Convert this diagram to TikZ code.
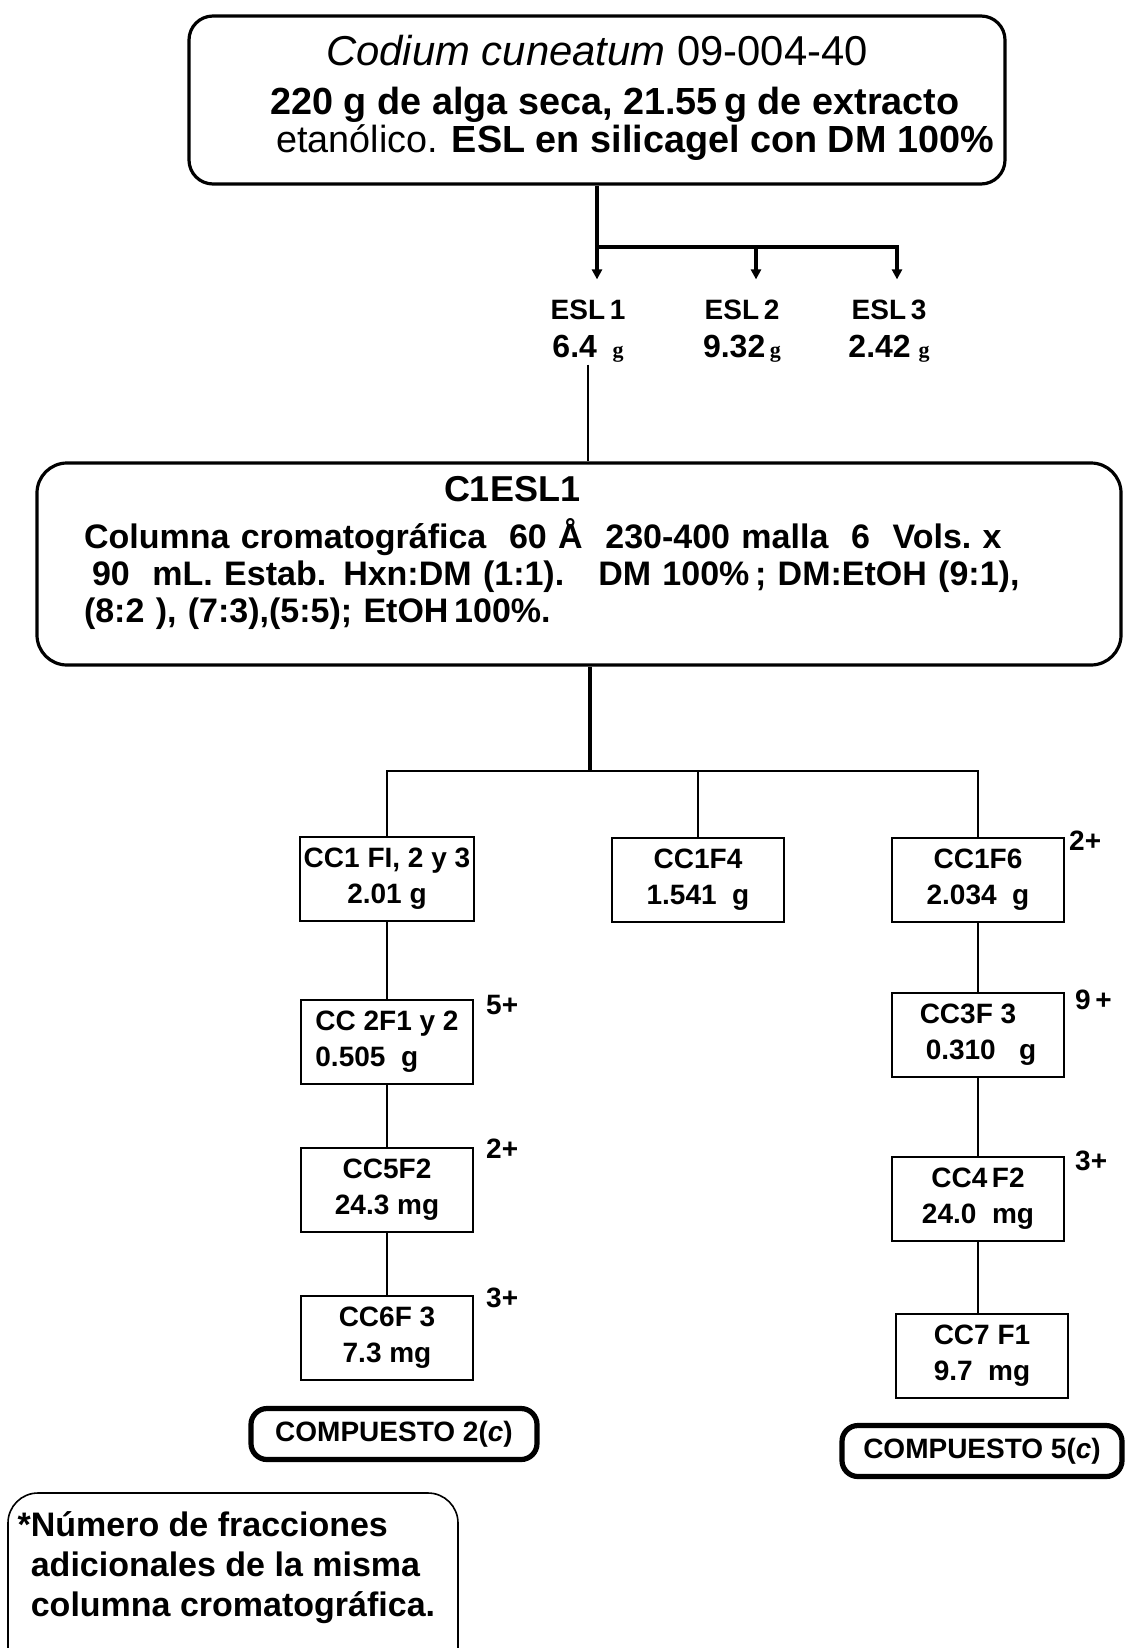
\documentclass[tikz,border=0pt]{standalone}
\usepackage{fontspec}
\setmainfont{Liberation Sans}
\newfontfamily\serifg{Liberation Serif}
\usetikzlibrary{positioning, arrows.meta}

\newcommand{\gsm}{{\serifg\bfseries\fontsize{11}{11}\selectfont g}}
\newcommand{\wt}[1]{{\bfseries\fontsize{16}{19}\selectfont #1}}

\begin{document}
\begin{tikzpicture}[
    x=0.5pt, y=-0.5pt,
    >={Triangle[width=5pt, length=5pt]},
    font=\bfseries\fontsize{14}{18}\selectfont,
    trunk/.style={line width=2pt},
    link/.style={line width=0.7pt},
    topbox/.style={draw, line width=1.6pt, rounded corners=12pt,
      minimum width=408pt, minimum height=84pt, align=center,
      font=\bfseries\fontsize{18.9}{17.5}\selectfont},
    colbox/.style={draw, line width=1.6pt, rounded corners=15pt,
      minimum width=542pt, minimum height=101pt, text width=495pt,
      align=left, font=\bfseries\fontsize{17}{18.5}\selectfont},
    esl/.style={align=center, inner sep=1pt,
      font=\bfseries\fontsize{14}{19}\selectfont},
    frac/.style={draw, line width=0.8pt, minimum width=86pt,
      minimum height=42pt, align=center, inner sep=2pt},
    chain/.style={frac, on grid},
    plus/.style={inner sep=0pt},
    compbox/.style={draw, line width=2.6pt, rounded corners=8pt,
      minimum width=143pt, minimum height=25.5pt, on grid},
    notebox/.style={draw, line width=0.8pt, rounded corners=15pt,
      minimum width=225pt, minimum height=100pt, align=left,
      font=\bfseries\fontsize{17}{20}\selectfont},
  ]
  \path[use as bounding box, fill=white] (0,0) rectangle (1124,1648);

  % Extracto
  \node[topbox, text depth=6pt] (alga) at (597,100)
    {{\mdseries\fontsize{20.9}{17.5}\selectfont\itshape Codium cuneatum\upshape~09-004-40}\\[7pt]
     \hspace*{18pt}220 g de alga seca, 21.55\,g de extracto\\
     \hspace*{38pt}{\mdseries etanólico.} ESL en silicagel con DM 100\%};

  % Fracciones ESL
  \node[esl] (esl1) at (588,331) {ESL\,1\\\wt{6.4}~~\gsm};
  \node[esl] (esl2) at (742,331) {ESL\,2\\\wt{9.32}\,\gsm};
  \node[esl] (esl3) at (889,331) {ESL\,3\\\wt{2.42}~\gsm};

  \coordinate (split) at (597,247);
  \coordinate (d2) at (756,247);
  \coordinate (d3) at (897,247);
  \draw[trunk, ->, shorten >=9pt] (alga.south) -- (alga.south |- esl1.north);
  \draw[trunk, ->, shorten >=9pt] (split) -| (d3 |- esl3.north);
  \draw[trunk, ->, shorten >=9pt] (d2) -- (d2 |- esl2.north);

  % Columna C1ESL1
  \node[colbox, text depth=75pt] (c1esl1) at (579,564)
    {{\hspace*{180pt}\fontsize{18}{18.5}\selectfont C1ESL1}\\[5pt]
     Columna cromatográfica~~60~Å~~230-400 malla~~6~~Vols.~x\\
     \hspace*{4pt}90~~mL. Estab. Hxn:DM (1:1).~~~DM~100\%\,; DM:EtOH (9:1),\\
     (8:2~), (7:3),(5:5); EtOH\,100\%.};
  \draw[link] (esl1.south) -- (esl1.south |- c1esl1.north);

  % Fracciones CC
  \node[frac] (f123) at (387,879) {CC1~FI, 2 y 3\\2.01 g};
  \node[frac] (f4) at (698,880) {CC1F4\\1.541~~g};
  \node[frac] (f6) at (978,880) {CC1F6\\2.034~~g};

  \node[chain, below=81.5pt of f123, align=left] (cc2) {CC~2F1 y 2\\0.505~~g};
  \node[chain, below=74pt of cc2] (cc5) {CC5F2\\24.3 mg};
  \node[chain, below=74pt of cc5] (cc6) {CC6F~3\\7.3~mg};
  \node[compbox, below=48pt of cc6, xshift=3.5pt] (comp2) {COMPUESTO 2(\textit{c})};

  \node[chain, below=77.5pt of f6, align=left] (cc3) {CC3F~3\\\hspace*{3pt}0.310~~~g};
  \node[chain, below=82pt of cc3] (cc4) {CC4\,F2\\24.0~~mg};
  \node[chain, below=78.5pt of cc4, xshift=2pt] (cc7) {CC7~F1\\9.7~~mg};
  \node[compbox, below=47.5pt of cc7, minimum width=140pt] (comp5) {COMPUESTO 5(\textit{c})};

  \coordinate (hub) at (590,771);
  \draw[line width=1.8pt] (hub |- c1esl1.south) -- (hub);
  \draw[link] (f123.north) |- (hub) -| (f6.north);
  \draw[link] (f4.north) -- (f4.north |- hub);
  \foreach \a/\b in {f123/cc2, cc2/cc5, cc5/cc6, f6/cc3, cc3/cc4, cc4/cc7}
    \draw[link] (\a.south) -- (\a.south |- \b.north);

  % Fracciones adicionales
  \node[plus, right=2pt of f6.north east, yshift=-2pt] (nf6) {2+};
  \node[plus, right=6pt of cc2.north east, yshift=-3pt] (ncc2) {5+};
  \node[plus, right=6pt of cc5.north east, yshift=-1pt] (ncc5) {2+};
  \node[plus, right=6pt of cc6.north east, yshift=-1.5pt] (ncc6) {3+};
  \node[plus, right=5pt of cc3.north east, yshift=-4pt] (ncc3) {9\,+};
  \node[plus, right=5pt of cc4.north east, yshift=-2.5pt] (ncc4) {3+};

  % Nota
  \node[notebox, text depth=29pt] (nota) at (233,1593)
    {\llap{*}Número de fracciones\\adicionales de la misma\\columna cromatográfica.};
\end{tikzpicture}
\end{document}
